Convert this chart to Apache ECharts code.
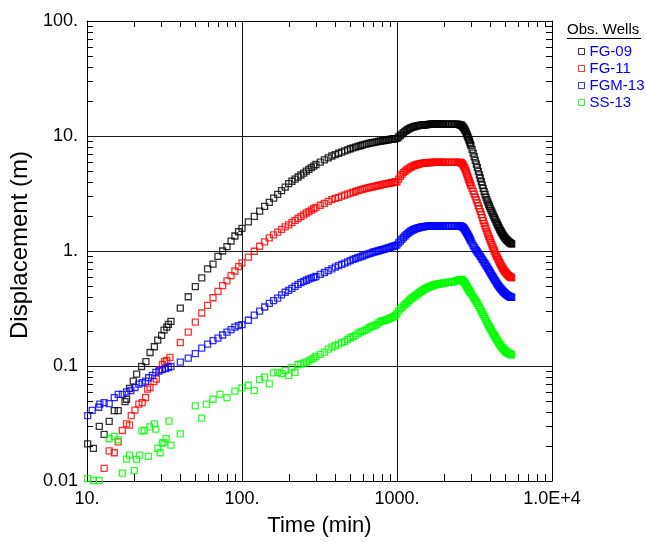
<!DOCTYPE html>
<html><head><meta charset="utf-8">
<script src="https://cdn.jsdelivr.net/npm/echarts@6/dist/echarts.min.js"></script>
<style>html,body{margin:0;padding:0;background:#fff}#c{width:646px;height:542px}</style>
</head><body><div id="c"></div>
<script>
// ---- axis ticks ----
const xTickValues = [10, 100, 1000, 10000];
const xTickLabels = ['10.', '100.', '1000.', '1.0E+4'];
const yTickValues = [0.01, 0.1, 1, 10, 100];
const yTickLabels = ['0.01', '0.1', '1.', '10.', '100.'];
const xMinorTickValues = [20,30,40,50,60,70,80,90,200,300,400,500,600,700,800,900,2000,3000,4000,5000,6000,7000,8000,9000];
const yMinorTickValues = [0.02,0.03,0.04,0.05,0.06,0.07,0.08,0.09,0.2,0.3,0.4,0.5,0.6,0.7,0.8,0.9,2,3,4,5,6,7,8,9,20,30,40,50,60,70,80,90];

// ---- series ----
const seriesNames = ['FG-09', 'FG-11', 'FGM-13', 'SS-13'];
const seriesColors = ['#000000', '#ff0000', '#0000ff', '#00ff00'];

// shared late time samples (min)
const lateTime = [
  110,120,130,140,150,160,170,180,190,200,210,220,230,240,250,260,270,280,290,300,
  320,340,360,380,400,420,440,460,480,500,520,540,560,580,600,620,640,660,680,700,
  720,740,760,780,800,820,840,860,880,900,920,940,960,980,1000,
  1025,1050,1075,1100,1125,1150,1175,1200,1225,1250,1275,1300,1325,1350,1375,1400,1425,1450,1475,1500,
  1525,1550,1575,1600,1625,1650,1675,1700,1725,1750,1775,1800,1825,1850,1875,1900,1925,1950,1975,2000,
  2050,2100,2150,2200,2250,2300,2350,2400,2450,2500,
  2525,2550,2575,2600,2625,2650,2675,2700,2725,2750,2775,2800,2825,2850,2875,2900,2925,2950,2975,3000,
  3050,3100,3150,3200,3250,3300,3350,3400,3450,3500,3550,3600,3650,3700,3750,3800,3850,3900,3950,4000,
  4050,4100,4150,4200,4250,4300,4350,4400,4450,4500,4550,4600,4650,4700,4750,4800,4850,4900,4950,5000,
  5050,5100,5150,5200,5250,5300,5350,5400,5450,5500
];

// FG-09
const fg09EarlyTime = [10.1,11.0,12.0,12.9,13.9,15.0,15.9,17.6,18.0,18.8,19.9,20.9,22.5,24.0,25.5,27.2,28.6,30.3,31.4,32.7,33.5,34.8,40,45,50,55,60,65,70,75,80,85,90,95,100];
const fg09EarlyDisp = [0.021,0.0192,0.0298,0.0254,0.033,0.041,0.041,0.049,0.0514,0.064,0.074,0.085,0.099,0.109,0.131,0.147,0.168,0.185,0.205,0.218,0.23,0.244,0.318,0.40,0.49,0.585,0.698,0.77,0.897,1.0,1.09,1.22,1.35,1.47,1.57];
const fg09LateDisp = [
  1.79,2.0,2.22,2.44,2.65,2.88,3.11,3.35,3.6,3.86,4.04,4.22,4.40,4.58,4.76,4.94,5.12,5.30,5.47,5.65,
  5.92,6.2,6.45,6.7,6.9,7.08,7.25,7.42,7.58,7.75,7.88,8.0,8.12,8.23,8.35,8.45,8.55,8.63,8.7,8.77,
  8.84,8.9,8.97,9.03,9.08,9.13,9.18,9.23,9.28,9.33,9.37,9.42,9.46,9.5,9.55,
  9.8,10.1,10.4,10.7,10.95,11.2,11.4,11.6,11.75,11.9,12.0,12.1,12.18,12.25,12.3,12.35,12.4,12.45,12.48,12.5,
  12.52,12.55,12.57,12.6,12.62,12.65,12.65,12.65,12.68,12.7,12.7,12.7,12.7,12.7,12.7,12.7,12.7,12.7,12.7,12.7,
  12.7,12.7,12.7,12.7,12.7,12.7,12.7,12.68,12.65,12.6,
  12.55,12.5,12.45,12.4,12.25,12.1,11.9,11.7,11.45,11.2,10.9,10.6,10.3,10.0,9.7,9.4,9.1,8.8,8.5,8.25,
  7.65,7.1,6.6,6.15,5.7,5.3,4.93,4.6,4.29,4.0,3.74,3.5,3.29,3.1,2.94,2.8,2.67,2.55,2.45,2.35,
  2.26,2.18,2.1,2.02,1.95,1.88,1.82,1.76,1.7,1.65,1.6,1.55,1.51,1.47,1.43,1.4,1.37,1.34,1.31,1.29,
  1.27,1.25,1.235,1.22,1.205,1.19,1.18,1.17,1.16,1.15
];

// FG-11
const fg11EarlyTime = [12.9,13.9,15.0,15.9,16.9,18.0,18.8,19.3,20.4,21.6,22.7,23.9,24.6,25.5,27.0,28.0,29.6,30.7,31.7,32.7,34.3,40,45,50,55,60,65,70,75,80,85,90,95,100];
const fg11EarlyDisp = [0.0129,0.0183,0.0176,0.0219,0.0275,0.0314,0.0306,0.037,0.0414,0.0466,0.048,0.0532,0.063,0.065,0.073,0.077,0.093,0.103,0.109,0.112,0.119,0.16,0.197,0.241,0.289,0.337,0.392,0.445,0.50,0.55,0.61,0.67,0.73,0.787];
const fg11LateDisp = [
  0.885,0.995,1.1,1.2,1.3,1.38,1.46,1.54,1.62,1.69,1.77,1.85,1.92,1.99,2.06,2.14,2.2,2.27,2.33,2.4,
  2.5,2.6,2.7,2.8,2.87,2.93,3.0,3.06,3.12,3.18,3.23,3.29,3.35,3.4,3.44,3.48,3.52,3.56,3.59,3.62,
  3.65,3.68,3.71,3.74,3.77,3.8,3.83,3.86,3.88,3.9,3.92,3.94,3.96,3.98,4.0,
  4.22,4.45,4.63,4.8,4.93,5.05,5.15,5.25,5.34,5.42,5.49,5.55,5.6,5.65,5.69,5.72,5.75,5.78,5.8,5.82,
  5.84,5.85,5.86,5.87,5.875,5.88,5.885,5.89,5.895,5.9,5.9,5.9,5.9,5.9,5.9,5.9,5.9,5.9,5.9,5.9,
  5.9,5.9,5.9,5.9,5.9,5.9,5.9,5.9,5.9,5.9,
  5.89,5.88,5.87,5.85,5.78,5.7,5.58,5.45,5.3,5.15,5.0,4.85,4.67,4.5,4.35,4.2,4.07,3.95,3.82,3.7,
  3.5,3.3,3.12,2.95,2.78,2.62,2.47,2.33,2.2,2.07,1.95,1.84,1.74,1.65,1.57,1.49,1.42,1.35,1.29,1.23,
  1.18,1.13,1.085,1.04,1.0,0.96,0.93,0.9,0.87,0.84,0.815,0.79,0.77,0.75,0.73,0.71,0.695,0.68,0.667,0.655,
  0.645,0.635,0.626,0.618,0.611,0.605,0.599,0.594,0.589,0.585
];

// FGM-13
const fgm13EarlyTime = [10.1,10.8,11.9,12.1,12.9,13.9,15.0,15.9,16.9,18.0,19.2,20.4,21.6,22.7,23.9,25.0,26.4,27.8,29.1,30.6,32.0,33.5,34.8,40,45,50,55,60,65,70,75,80,85,90,95,100];
const fgm13EarlyDisp = [0.037,0.0412,0.0438,0.0466,0.048,0.047,0.053,0.0566,0.0566,0.0595,0.0612,0.065,0.0695,0.0715,0.074,0.079,0.083,0.088,0.0905,0.093,0.095,0.097,0.099,0.108,0.117,0.128,0.143,0.155,0.166,0.175,0.186,0.197,0.207,0.218,0.224,0.229];
const fgm13LateDisp = [
  0.25,0.277,0.30,0.326,0.35,0.37,0.39,0.415,0.438,0.455,0.473,0.493,0.512,0.53,0.545,0.557,0.57,0.58,0.59,0.60,
  0.625,0.65,0.675,0.70,0.725,0.745,0.765,0.785,0.805,0.825,0.845,0.86,0.875,0.89,0.905,0.92,0.935,0.95,0.96,0.975,
  0.985,0.995,1.005,1.015,1.025,1.035,1.045,1.055,1.065,1.075,1.085,1.095,1.105,1.115,1.13,
  1.175,1.22,1.265,1.31,1.35,1.39,1.425,1.46,1.485,1.51,1.53,1.55,1.565,1.58,1.59,1.6,1.61,1.62,1.625,1.63,
  1.635,1.64,1.643,1.645,1.648,1.65,1.65,1.65,1.65,1.65,1.65,1.65,1.65,1.65,1.65,1.65,1.65,1.65,1.65,1.65,
  1.65,1.65,1.65,1.65,1.65,1.65,1.65,1.65,1.65,1.65,
  1.65,1.65,1.645,1.64,1.63,1.62,1.6,1.58,1.55,1.52,1.49,1.46,1.43,1.4,1.37,1.34,1.31,1.28,1.25,1.22,
  1.17,1.12,1.08,1.04,1.01,0.98,0.952,0.925,0.897,0.87,0.845,0.82,0.797,0.775,0.752,0.73,0.71,0.69,0.67,0.65,
  0.632,0.615,0.599,0.583,0.567,0.552,0.539,0.526,0.514,0.503,0.493,0.483,0.474,0.466,0.458,0.451,0.444,0.438,0.432,0.427,
  0.422,0.417,0.413,0.409,0.406,0.403,0.4,0.398,0.396,0.395
];

// SS-13
const ss13EarlyTime = [10.1,11.0,12.0,13.9,15.0,15.9,16.9,18.0,18.8,20.2,20.9,21.9,22.6,23.4,24.9,25.4,27.2,27.8,28.6,29.6,30.6,31.4,32.4,33.8,34.8,40,50,55,59,65,72,80,90,100];
const ss13EarlyDisp = [0.0105,0.0101,0.0101,0.0233,0.0244,0.0228,0.0117,0.0155,0.0168,0.0123,0.0154,0.0168,0.0273,0.0275,0.0164,0.0296,0.0314,0.0283,0.0192,0.0176,0.0214,0.0216,0.0233,0.0331,0.0205,0.0257,0.045,0.0352,0.0466,0.0514,0.0566,0.053,0.0605,0.0646];
const ss13LateDisp = [
  0.068,0.061,0.076,0.08,0.07,0.087,0.088,0.086,0.091,0.083,0.097,0.088,0.103,0.104,0.106,0.108,0.111,0.114,0.117,0.121,
  0.126,0.132,0.14,0.146,0.15,0.155,0.16,0.164,0.17,0.176,0.18,0.185,0.192,0.197,0.2,0.204,0.208,0.215,0.219,0.222,
  0.226,0.229,0.237,0.243,0.246,0.248,0.25,0.252,0.256,0.26,0.263,0.266,0.27,0.277,0.285,
  0.302,0.315,0.322,0.333,0.344,0.352,0.36,0.372,0.382,0.39,0.397,0.405,0.413,0.42,0.428,0.435,0.443,0.45,0.458,0.465,
  0.47,0.475,0.48,0.485,0.489,0.493,0.497,0.5,0.504,0.507,0.51,0.512,0.514,0.516,0.518,0.52,0.521,0.523,0.525,0.526,
  0.529,0.532,0.534,0.536,0.538,0.54,0.543,0.547,0.552,0.557,
  0.56,0.562,0.564,0.565,0.562,0.555,0.548,0.54,0.53,0.52,0.51,0.5,0.49,0.48,0.47,0.46,0.452,0.445,0.437,0.43,
  0.415,0.4,0.387,0.375,0.362,0.35,0.337,0.325,0.312,0.3,0.29,0.28,0.27,0.26,0.251,0.242,0.234,0.226,0.219,0.212,
  0.206,0.2,0.194,0.189,0.184,0.179,0.174,0.17,0.166,0.162,0.158,0.155,0.151,0.148,0.145,0.143,0.141,0.139,0.137,0.135,
  0.133,0.132,0.131,0.13,0.129,0.128,0.127,0.126,0.1255,0.125
];

const earlyTimes = [fg09EarlyTime, fg11EarlyTime, fgm13EarlyTime, ss13EarlyTime];
const earlyDisps = [fg09EarlyDisp, fg11EarlyDisp, fgm13EarlyDisp, ss13EarlyDisp];
const lateDisps = [fg09LateDisp, fg11LateDisp, fgm13LateDisp, ss13LateDisp];

function buildPairs(i) {
  const out = [];
  earlyTimes[i].forEach((t, k) => out.push([t, earlyDisps[i][k]]));
  lateTime.forEach((t, k) => { if (lateDisps[i][k] != null) out.push([t, lateDisps[i][k]]); });
  return out;
}

const FONT = '"Liberation Sans", Arial, Helvetica, sans-serif';
const chart = echarts.init(document.getElementById('c'), null, {renderer: 'canvas'});

function fmtX(v) { const i = xTickValues.findIndex(t => Math.abs(Math.log10(t) - Math.log10(v)) < 1e-6); return i >= 0 ? xTickLabels[i] : ''; }
function fmtY(v) { const i = yTickValues.findIndex(t => Math.abs(Math.log10(t) - Math.log10(v)) < 1e-6); return i >= 0 ? yTickLabels[i] : ''; }

const scatterSeries = seriesNames.map((name, i) => ({
  name,
  type: 'scatter',
  xAxisIndex: 0, yAxisIndex: 0,
  symbol: 'rect',
  symbolSize: 6,
  data: buildPairs(i),
  itemStyle: {color: 'rgba(255,255,255,0)', borderColor: seriesColors[i], borderWidth: 1.3},
  emphasis: {disabled: true},
  z: 3
}));

const minorX = {
  type: 'custom', xAxisIndex: 0, yAxisIndex: 0, silent: true, z: 4, clip: false,
  data: xMinorTickValues.map(v => [v, 1]),
  renderItem: (params, api) => {
    const cs = params.coordSys;
    const x = Math.round(api.coord([api.value(0), 1])[0]) + 0.5;
    const yb = cs.y + cs.height, yt = cs.y;
    return {type: 'group', children: [
      {type: 'line', shape: {x1: x, y1: yb, x2: x, y2: yb - 7}, style: {stroke: '#000', lineWidth: 1}},
      {type: 'line', shape: {x1: x, y1: yt, x2: x, y2: yt + 6}, style: {stroke: '#000', lineWidth: 1}}
    ]};
  }
};
const minorY = {
  type: 'custom', xAxisIndex: 0, yAxisIndex: 0, silent: true, z: 4, clip: false,
  data: yMinorTickValues.map(v => [100, v]),
  renderItem: (params, api) => {
    const cs = params.coordSys;
    const y = Math.round(api.coord([100, api.value(1)])[1]) + 0.5;
    const xl = cs.x, xr = cs.x + cs.width;
    return {type: 'group', children: [
      {type: 'line', shape: {x1: xl, y1: y, x2: xl + 6, y2: y}, style: {stroke: '#000', lineWidth: 1}},
      {type: 'line', shape: {x1: xr, y1: y, x2: xr - 6, y2: y}, style: {stroke: '#000', lineWidth: 1}}
    ]};
  }
};

const axisLineStyle = {show: true, lineStyle: {color: '#000', width: 1}};

chart.setOption({
  animation: false,
  backgroundColor: '#fff',
  grid: {left: 87, top: 21, width: 465, height: 467, containLabel: false},
  xAxis: [
    {type: 'log', logBase: 10, min: 10, max: 10000, position: 'bottom',
     name: 'Time (min)', nameLocation: 'middle', nameGap: 34,
     nameTextStyle: {fontFamily: FONT, fontSize: 22, color: '#000'},
     axisLine: axisLineStyle,
     axisTick: {show: false},
     axisLabel: {formatter: fmtX, fontFamily: FONT, fontSize: 18, color: '#000', margin: 9, showMinLabel: true, showMaxLabel: true},
     splitLine: {show: true, lineStyle: {color: '#1a1a1a', width: 1}},
     minorTick: {show: false}, minorSplitLine: {show: false}},
    {type: 'log', logBase: 10, min: 10, max: 10000, position: 'top',
     axisLine: axisLineStyle, axisTick: {show: false}, axisLabel: {show: false}, splitLine: {show: false}}
  ],
  yAxis: [
    {type: 'log', logBase: 10, min: 0.01, max: 100, position: 'left',
     name: 'Displacement (m)', nameLocation: 'middle', nameGap: 49, nameRotate: 90,
     nameTextStyle: {fontFamily: FONT, fontSize: 24, color: '#000', padding: [0, 0, 0, 12]},
     axisLine: axisLineStyle,
     axisTick: {show: false},
     axisLabel: {formatter: fmtY, fontFamily: FONT, fontSize: 18, color: '#000', margin: 9, showMinLabel: true, showMaxLabel: true},
     splitLine: {show: true, lineStyle: {color: '#1a1a1a', width: 1}}},
    {type: 'log', logBase: 10, min: 0.01, max: 100, position: 'right',
     axisLine: axisLineStyle, axisTick: {show: false}, axisLabel: {show: false}, splitLine: {show: false}}
  ],
  legend: {
    orient: 'vertical', left: 578, top: 44, padding: 0, itemGap: 2,
    itemWidth: 6, itemHeight: 6, icon: 'rect', selectedMode: false,
    textStyle: {fontFamily: FONT, fontSize: 15, color: '#0000ff', lineHeight: 15},
    data: seriesNames.map((n, i) => ({name: n, itemStyle: {color: '#fff', borderColor: seriesColors[i], borderWidth: 1}}))
  },
  graphic: [
    {type: 'text', left: 567, top: 22, style: {text: 'Obs. Wells', fontFamily: FONT, fontSize: 15, fill: '#000'}},
    {type: 'line', shape: {x1: 567, y1: 38.5, x2: 641, y2: 38.5}, style: {stroke: '#000', lineWidth: 1}}
  ],
  series: [...scatterSeries, minorX, minorY]
});
</script></body></html>
